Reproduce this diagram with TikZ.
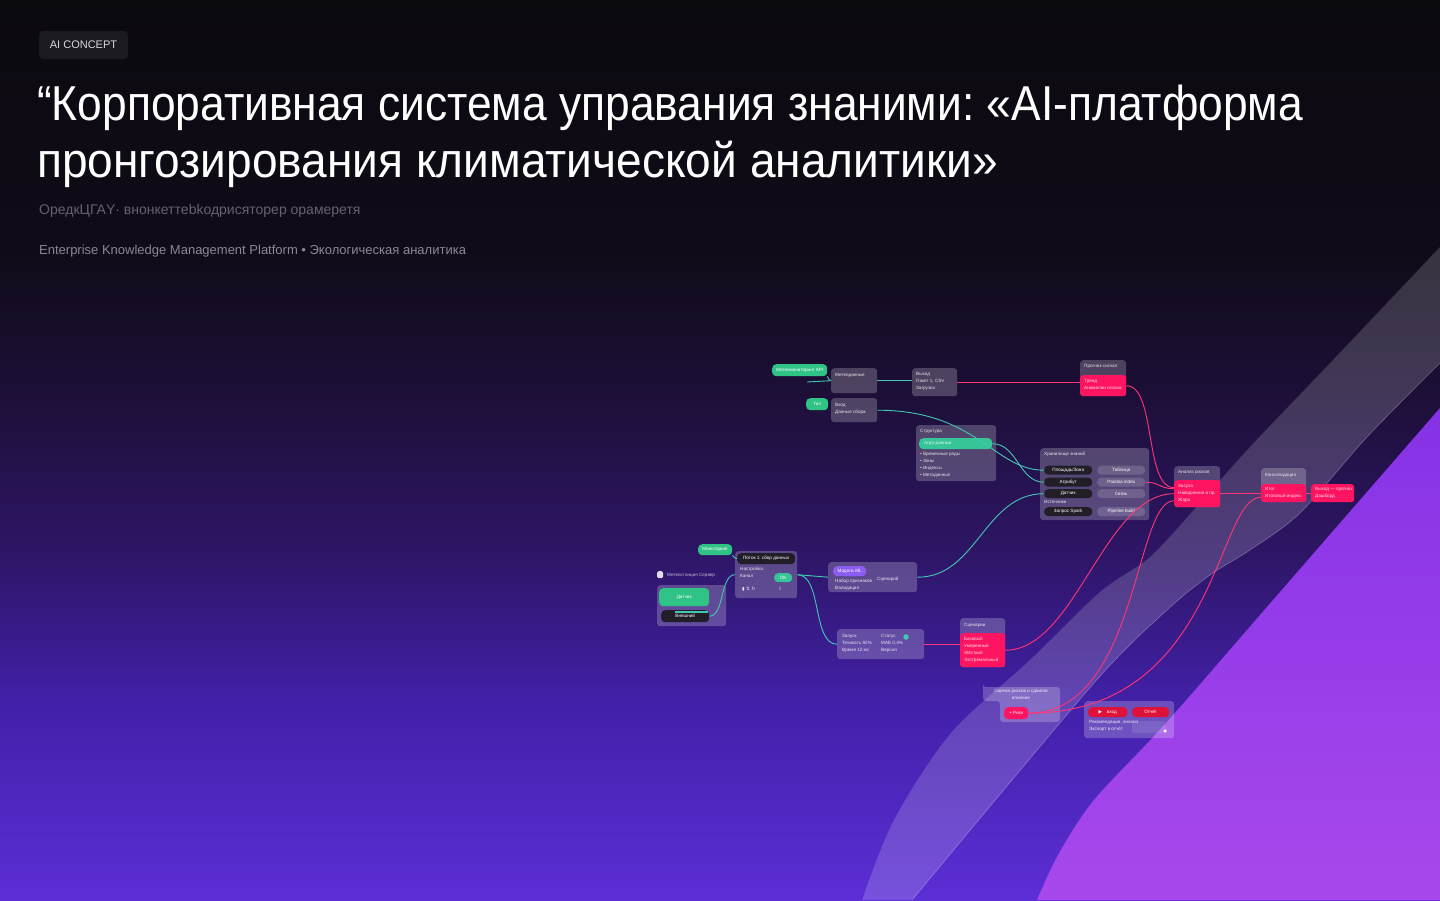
\documentclass[tikz,border=0pt]{standalone}
\usepackage{fontspec}
\setmainfont{Liberation Sans}
\newfontfamily\uifont{Liberation Sans}
\newfontfamily\titlefont[FakeStretch=0.905]{Liberation Sans}
\newfontfamily\titlefontb[FakeStretch=0.94]{Liberation Sans}
\newfontfamily\symfont{DejaVu Sans}
\usetikzlibrary{calc,positioning,shapes}
\definecolor{bgtop}{HTML}{0B0A0F}
\definecolor{bgA}{HTML}{100B18}
\definecolor{bgB}{HTML}{1D0F38}
\definecolor{bgC}{HTML}{2E1668}
\definecolor{bgD}{HTML}{4220A8}
\definecolor{bgbot}{HTML}{5C2ED6}
\definecolor{violA}{HTML}{8532E6}
\definecolor{violB}{HTML}{A848EC}
\definecolor{hot}{HTML}{FF1462}
\definecolor{crim}{HTML}{DE1238}
\definecolor{wire}{HTML}{FF3574}
\definecolor{wireteal}{HTML}{44C8B4}
\definecolor{mint}{HTML}{2FC486}
\definecolor{ink}{HTML}{221E28}
\definecolor{tagbg}{HTML}{1C1A21}
\definecolor{grey1}{HTML}{67636E}
\definecolor{grey2}{HTML}{8C8793}
\definecolor{lilac}{HTML}{8D5CF0}
\pgfdeclareverticalshading{bgfade}{100bp}{color(0bp)=(bgbot); color(25bp)=(bgbot); color(36bp)=(bgD); color(44bp)=(bgC); color(53bp)=(bgB); color(61bp)=(bgA); color(75bp)=(bgtop); color(100bp)=(bgtop)}
\newcommand{\ui}{\fontsize{4.6}{7}\selectfont\uifont}
\frenchspacing

\begin{document}
\begin{tikzpicture}[x=1pt,y=-1pt,
  card/.style={fill=white,fill opacity=.22,rounded corners=3pt,inner sep=0pt,anchor=north west},
  hotbox/.style={fill=hot,rounded corners=3pt,inner sep=0pt,anchor=north west},
  pillbox/.style={rounded corners=4pt,inner sep=0pt,anchor=north west,minimum height=9pt,text=white,font=\ui},
  tx/.style={text=white,text opacity=.85,font=\ui,inner sep=0pt,anchor=north west,align=left},
  tealwire/.style={draw=wireteal,line width=.9pt},
  pinkwire/.style={draw=wire,line width=.9pt}]
        \useasboundingbox (0,0) rectangle (1440,900);
        \shade[shading=bgfade] (0,0) rectangle (1440,900);
        % light band and violet corner
        \fill[white,fill opacity=.17] plot[smooth] coordinates {(1440,247) (1333,360) (1250,447) (1200,503) (1150,557) (1100,592) (1030,660) (951,733) (894,820) (862,900)}
          -- plot[smooth] coordinates {(912,900) (1094,683) (1167,610) (1210,575) (1250,550) (1300,513) (1367,437) (1440,363)} -- cycle;
        \draw[white,opacity=.28,line width=.6pt] plot[smooth] coordinates {(912,900) (1094,683) (1167,610) (1210,575) (1250,550) (1300,513) (1367,437) (1440,363)};
        \shade[top color=violA,bottom color=violB] plot[smooth] coordinates {(1440,408) (1273,600) (1166,723) (1094,800) (1058,855) (1037,900)} -- (1440,900) -- cycle;

        % heading
        \node[fill=tagbg,rounded corners=4pt,minimum width=89pt,minimum height=28pt,inner sep=0pt,
          text=white!85!black,font=\fontsize{11}{13}\selectfont] (tag) at (83.5,45) {AI CONCEPT};
        \node[anchor=base west,inner sep=0pt,text=white,font=\fontsize{49}{57}\selectfont\titlefont] (title1) at (37,120)
          {“Корпоративная система управания знаними: «AI-платформа};
        \node[anchor=base west,inner sep=0pt,text=white,font=\fontsize{49}{57}\selectfont\titlefontb] (title2) at (37,177)
          {пронгозирования климатической аналитики»};
        \node[anchor=base west,inner sep=0pt,text=grey1,font=\fontsize{14}{16}\selectfont] (sub1) at (39,214)
          {ОредкЦГАY· внонкеттebkодрисяторер орамеретя};
        \node[anchor=base west,inner sep=0pt,text=grey2,font=\fontsize{13}{15}\selectfont] (sub2) at (39,254)
          {Enterprise Knowledge Management Platform • Экологическая аналитика};

        % upper row
        \node[pillbox,fill=mint,minimum width=55pt,minimum height=12pt] (api) at (772,364) {Метеомониторинг API};
        \node[card,minimum width=46pt,minimum height=25pt] (A) at (831,368) {};
        \node[tx] (At) at (835,373) {Метеоданные};
        \node[pillbox,fill=mint,minimum width=22pt,minimum height=12pt] (typ) at (806,398) {Тип};
        \node[card,minimum width=46pt,minimum height=24pt] (B) at (831,398) {};
        \node[tx] (Bt) at (835,403) {Вход\\Данные сбора};
        \node[card,minimum width=45pt,minimum height=28pt] (C) at (912,368) {};
        \node[tx] (Ct) at (916,372) {Выход\\Пакет 1, CSV\\Загрузка};
        \node[card,minimum width=46pt,minimum height=36pt] (D) at (1080,360) {};
        \node[tx] (Dt) at (1084,364) {Прогноз-сигнал};
        \node[hotbox,minimum width=46pt,minimum height=21pt] (Dhot) at (1080,375) {};
        \node[tx] (Dht) at (1084,379) {Тренд\\Аномалии сезона};

        % structure
        \node[card,minimum width=80pt,minimum height=56pt] (E) at (916,425) {};
        \node[tx] (Et) at (920,429) {Структура};
        \node[pillbox,fill=mint!65!wireteal,minimum width=73pt,minimum height=11pt] (Ebar) at (919,438) {};
        \node[tx] (Ebt) at (924,441) {Агро-данные};
        \node[tx] (El) at (920,452) {• Временные ряды\\• Зоны\\• Индексы\\• Метаданные};

        % knowledge store
        \node[card,minimum width=109pt,minimum height=72pt] (F) at (1040,448) {};
        \node[tx] (Ft) at (1044,452) {Хранилище знаний};
        \node[pillbox,fill=ink,minimum width=48pt] (F1a) at (1044,465.5) {Площадь/Зона};
        \node[pillbox,fill=white,fill opacity=.15,text opacity=1,minimum width=48pt] (F1b) at (1097,465.5) {Таблица};
        \node[pillbox,fill=ink,minimum width=48pt] (F2a) at (1044,477.5) {Атрибут};
        \node[pillbox,fill=white,fill opacity=.15,text opacity=1,minimum width=48pt] (F2b) at (1097,477.5) {Pandas index};
        \node[pillbox,fill=ink,minimum width=48pt] (F3a) at (1044,489) {Датчик};
        \node[pillbox,fill=white,fill opacity=.15,text opacity=1,minimum width=48pt] (F3b) at (1097,489) {Связь};
        \node[tx] (Fl) at (1044,500) {Источники};
        \node[pillbox,fill=ink,minimum width=48pt] (F4a) at (1044,507) {Запрос Spark};
        \node[pillbox,fill=white,fill opacity=.15,text opacity=1,minimum width=48pt] (F4b) at (1097,507) {Pipeline build};

        % analysis and output
        \node[card,minimum width=46pt,minimum height=41pt] (G) at (1174,466) {};
        \node[tx] (Gt) at (1178,470) {Анализ рисков};
        \node[hotbox,minimum width=46pt,minimum height=27pt] (Ghot) at (1174,480) {};
        \node[tx] (Ght) at (1178,484) {Засуха\\Наводнения и пр.\\Жара};
        \node[card,minimum width=45pt,minimum height=34pt] (H) at (1261,468) {};
        \node[tx] (Ht) at (1265,473) {Консолидация};
        \node[hotbox,minimum width=45pt,minimum height=18pt] (Hhot) at (1261,484) {};
        \node[tx] (Hht) at (1265,487) {Итог\\Итоговый индекс};
        \node[hotbox,minimum width=43pt,minimum height=18pt] (I) at (1311,484) {};
        \node[tx] (It) at (1315,487) {Выход — прогноз\\Дашборд};

        % station and flow
        \node[fill=white,fill opacity=.85,rounded corners=1.5pt,minimum width=6pt,minimum height=7pt,inner sep=0pt,anchor=north west] (jicon) at (657,571) {};
        \node[tx,text opacity=.7] (jt) at (667,573) {Метеостанция Сервер};
        \node[card,minimum width=69pt,minimum height=41pt] (J) at (657,585) {};
        \node[pillbox,fill=mint,minimum width=50pt,minimum height=18pt] (Jgreen) at (659,588) {Датчик};
        \node[pillbox,fill=ink,minimum width=48pt,minimum height=12pt] (Jdark) at (661,610) {Внешний};
        \node[fill=wireteal,minimum width=33pt,minimum height=1.5pt,inner sep=0pt,anchor=north west] (jbar) at (675,611) {};
        \node[pillbox,fill=mint,minimum width=34pt,minimum height=11pt] (L) at (698,544) {Мониторинг};
        \node[card,minimum width=62pt,minimum height=47pt] (K) at (735,551) {};
        \node[pillbox,fill=ink,minimum width=58pt,minimum height=11pt] (Khead) at (737,553) {Поток 1: сбор данных};
        \node[tx] (Kt) at (740,567) {Настройка\\Канал};
        \node[pillbox,fill=mint!65!wireteal,minimum width=18pt] (Kok) at (774,573) {OK};
        \node[tx] (Kic) at (742,587) {\symfont ▮ ⇅ ↻};
        \node[tx] (Kic2) at (778,587) {\symfont ⇩};
        \node[card,minimum width=89pt,minimum height=30pt] (M) at (828,562) {};
        \node[pillbox,fill=lilac,minimum width=33pt,minimum height=10pt] (Mp) at (833,566) {Модель ML};
        \node[tx] (Mt) at (835,579) {Набор признаков\\Валидация};
        \node[tx] (Mt2) at (877,577) {Сценарий};
        \node[card,minimum width=87pt,minimum height=30pt] (N) at (837,629) {};
        \node[tx] (Nt) at (842,634) {Запуск\\Точность 92\%\\Время 12 мс};
        \node[tx] (Nt2) at (881,634) {Статус\\MAE 0,4\%\\Версия};
        \node[circle,fill=wireteal,minimum size=5.5pt,inner sep=0pt] (Ndot) at (906,637) {};
        \node[card,minimum width=45pt,minimum height=49pt] (O) at (960,618) {};
        \node[tx] (Ot) at (964,623) {Сценарии};
        \node[hotbox,minimum width=45pt,minimum height=34pt] (Ohot) at (960,633) {};
        \node[tx] (Oht) at (964,637) {Базовый\\Умеренный\\Жёсткий\\Экстремальный};

        % report
        \fill[white,fill opacity=.22,rounded corners=3pt] (983,687) -| (1060,722) -| (1000,701) -| cycle;
        \node[tx,align=center,anchor=north] (Pt) at (1021,689) {Оценка рисков и сдвигов\\влияние};
        \node[pillbox,fill=hot,minimum width=24pt,minimum height=12pt] (Ppill) at (1004,707) {+ Риск};
        \node[card,minimum width=90pt,minimum height=37pt] (Q) at (1084,701) {};
        \node[pillbox,fill=crim,minimum width=39pt,minimum height=10pt] (Q1) at (1088,707) {{\symfont ▶}\quad вход};
        \node[pillbox,fill=crim,minimum width=37pt,minimum height=10pt] (Q2) at (1132,707) {Отчёт};
        \node[tx] (Qt) at (1089,720) {Рекомендации, анализ\\Экспорт в отчёт};
        \node[fill=white,fill opacity=.1,rounded corners=2pt,minimum width=33pt,minimum height=12pt,inner sep=0pt,anchor=north west] (Qbox) at (1132,721) {};
        \node[circle,fill=white,minimum size=3.5pt,inner sep=0pt] (Qdot) at (1165,731) {};

        % teal links
        \coordinate (feed) at (807,382);
        \draw[tealwire] (feed) -- (A.west);
        \draw[tealwire] (api.south east) to[out=-60,in=180] (A.west);
        \draw[tealwire] (A.east) -- (A.east -| C.west);
        \draw[tealwire] (B.east) .. controls +(100,0) and +(-50,0) .. (F1a.west);
        \draw[tealwire] (Ebar.east) .. controls +(25,0) and +(-25,0) .. (F2a.west);
        \draw[tealwire] (M.east) .. controls +(60,0) and +(-60,0) .. (F3a.west);
        \draw[tealwire] (Jdark.east) .. controls +(15,0) and +(-15,0) .. (K.west);
        \draw[tealwire] (L.south east) to[out=-45,in=180] (Khead.west);
        \draw[tealwire] (K.east) -- (M.west);
        \draw[tealwire] (K.east) .. controls +(25,0) and +(-25,0) .. (N.west);

        % pink links
        \draw[pinkwire] (C.east) -- (C.east -| Dhot.west);
        \draw[pinkwire] (Dhot.east) .. controls +(30,0) and +(-30,0) .. ($(Ghot.west)+(0,-6)$);
        \draw[pinkwire] (F2b.east) .. controls +(15,0) and +(-15,0) .. ($(Ghot.west)+(0,-5)$);
        \draw[pinkwire] (Ohot.east) .. controls +(70,0) and +(-70,0) .. (Ghot.west);
        \draw[pinkwire] (Ppill.east) .. controls +(110,0) and +(-40,0) .. ($(Ghot.west)+(0,7)$);
        \draw[pinkwire] (Ppill.east) .. controls +(190,0) and +(-45,0) .. ($(Hhot.west)+(0,4)$);
        \draw[pinkwire] (Ghot.east) -- (Ghot.east -| Hhot.west);
        \draw[pinkwire] (Hhot.east) -- (I.west);
        \draw[pinkwire] (N.east) -- (N.east -| Ohot.west);
      \end{tikzpicture}
\end{document}
